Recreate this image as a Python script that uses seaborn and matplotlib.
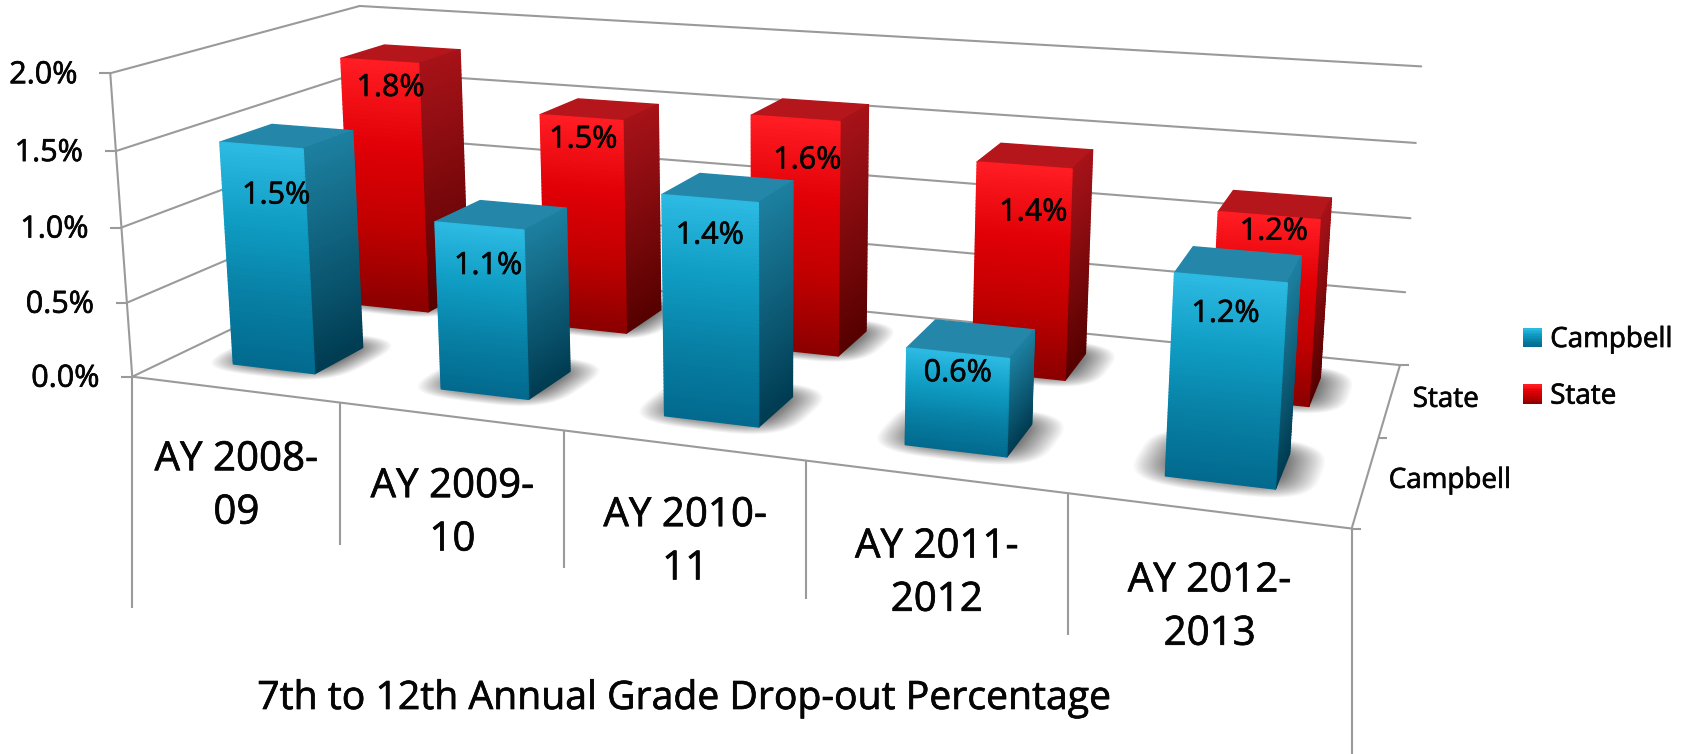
import numpy as np, matplotlib
matplotlib.use('Agg')
import matplotlib.pyplot as plt
import matplotlib.patheffects as pe
import seaborn as sns
from matplotlib.lines import Line2D
from matplotlib.patches import Patch, Rectangle
from matplotlib.legend_handler import HandlerBase
from matplotlib.transforms import IdentityTransform
from mpl_toolkits.mplot3d import proj3d
from mpl_toolkits.mplot3d.art3d import Poly3DCollection

# ---- data ----
categories = ["AY 2008-\n09", "AY 2009-\n10", "AY 2010-\n11", "AY 2011-\n2012", "AY 2012-\n2013"]
series_names = ["Campbell", "State"]
campbell = [1.5, 1.1, 1.4, 0.6, 1.2]
state = [1.8, 1.5, 1.6, 1.4, 1.2]
z_ticks = [0.0, 0.5, 1.0, 1.5, 2.0]
title = "7th to 12th Annual Grade Drop-out Percentage"

# ---- style / layout ----
W, H = 1692, 754
GRID = "#9a9a9a"
LW = 1.5
BAR = 0.4
FONT = "Open Sans"
TEXT = "#050505"
label_drop = {"Campbell": [50, 40, 37, 20, 36], "State": [27, 22, 42, 47, 16]}
label_dx = {"Campbell": [15, 9, 0, 0, -5], "State": [11, 2, 12, 9, 5]}
drop_len = [231, 142, 138, 138, 142, 230]
colors = {
    "Campbell": dict(front=("#2cb9e2", "#0f9dc4", "#0880a5", "#026a8e"), side=("#1c7f9f", "#003c52"), top="#2487aa"),
    "State": dict(front=("#ff1c22", "#e00006", "#c00000", "#8c0000"), side=("#a51218", "#560000"), top="#b5161c"),
}
BOLD = [pe.withStroke(linewidth=0.5, foreground=TEXT)]

sns.set_theme(style="white")
plt.rcParams["font.family"] = [FONT, "DejaVu Sans"]
fig = plt.figure(figsize=(W / 100, H / 100), dpi=100, facecolor="white")

ax = fig.add_subplot(projection="3d", computed_zorder=False)
ax.set_axis_off()
ax.set_proj_type("persp", focal_length=0.3201)
ax.view_init(13.9392, -70.0277)
ax.set_box_aspect((1, 0.3978, 0.2588))
ax.patch.set_alpha(0)
ax.set_xlim(0, 5); ax.set_ylim(0, 2); ax.set_zlim(0, 2)

# place the axes so the projected view has the reference's scale and centre
A_SCALE, TX, TY = 6959.491, 771.378, 222.840
side, cx, cy = 1300.0, TX, H - TY
for _ in range(4):
    ax.set_position([(cx - side / 2) / W, (cy - side / 2) / H, side / W, side / H])
    ax.apply_aspect()
    o = ax.transData.transform((0, 0))
    a = ax.transData.transform((1, 0))[0] - o[0]
    side *= A_SCALE / a
    cx += TX - o[0]
    cy += (H - TY) - o[1]

def to_px(x, y, z):
    xx, yy, _ = proj3d.proj_transform(x, y, z, ax.get_proj())
    return ax.transData.transform((xx, yy))

def ftext(px, py, s, **kw):
    fig.text(px, H - py, s, transform=IdentityTransform(), color=TEXT, path_effects=BOLD, **kw)

def fline(p0, p1):
    fig.add_artist(Line2D([p0[0], p1[0]], [p0[1], p1[1]], color=GRID, lw=LW,
                          transform=IdentityTransform(), solid_capstyle="butt"))

# walls
wall = dict(color=GRID, lw=LW, zorder=1, clip_on=False)
for z in z_ticks:
    ax.plot([0, 5], [2, 2], [z, z], **wall)
    ax.plot([0, 0], [0, 2], [z, z], **wall)
ax.plot([0, 0], [0, 0], [0, 2], **wall)
ax.plot([0, 5], [0, 0], [0, 0], **wall)
ax.plot([5, 5], [0, 2], [0, 0], **wall)

# soft floor shadows
def shadow(cx_, cy_, zo):
    th = np.linspace(0, 2 * np.pi, 60)
    for t in np.linspace(1, 0.04, 26) ** 1.25:
        hw = BAR / 2 + 0.14 * t
        px = cx_ + hw * np.sign(np.cos(th)) * np.abs(np.cos(th)) ** 0.6
        py = cy_ + 0.03 + hw * np.sign(np.sin(th)) * np.abs(np.sin(th)) ** 0.6
        pc = Poly3DCollection([list(zip(px, py, np.zeros_like(px)))], facecolors=(0, 0, 0, 0.028),
                              edgecolors="none", zorder=zo)
        ax.add_collection3d(pc)

for row, vals in enumerate([state, campbell]):
    for i, v in enumerate(vals):
        shadow(i + 0.5, (1.5 if row == 0 else 0.5), 2)

# gradient bars: a stack of thin bar3d slices
N = 60
zo = 3
CLEAR = (0, 0, 0, 0)
def draw_bar(i, y0, v, name):
    global zo
    c = colors[name]
    front = sns.blend_palette(list(c["front"])[::-1], N)
    sidep = sns.blend_palette(list(c["side"])[::-1], N)
    dz = v / N
    rgba = matplotlib.colors.to_rgba
    for k in range(N):
        # bar3d face order: bottom, top, -y, +y, -x, +x
        top = rgba(c["top"]) if k == N - 1 else CLEAR
        cols = [CLEAR, top, rgba(front[k]), CLEAR, CLEAR, rgba(sidep[k])]
        ax.bar3d(i + 0.5 - BAR / 2, y0, k * dz, BAR, BAR, dz, color=cols, shade=False,
                 edgecolors=cols, linewidth=1.0, zorder=zo)
        zo += 1

for i, v in enumerate(state):
    draw_bar(i, 1.3, v, "State")
for i, v in enumerate(campbell):
    draw_bar(i, 0.3, v, "Campbell")
ax.set_xlim(0, 5); ax.set_ylim(0, 2); ax.set_zlim(0, 2)

# z tick marks and labels
for z in z_ticks:
    p = to_px(0, 0, z)
    fline(p, (p[0] - 11, p[1]))
    ftext(p[0] - 33, H - p[1] + 2, f"{z:.1f}%", fontsize=22, ha="right", va="center")

# depth ticks and labels
for y in [0, 1, 2]:
    p = to_px(5, y, 0)
    fline(p, (p[0] + 9, p[1]))
for y, name in zip([0.5, 1.5], series_names):
    p = to_px(5, y, 0)
    ftext(p[0] + 23, H - p[1], name, fontsize=20, ha="left", va="center")

# category dividers and labels
for i in range(6):
    p = to_px(i, 0, 0)
    fline(p, (p[0], p[1] - drop_len[i]))
for i, cat in enumerate(categories):
    a, b = to_px(i, 0, 0), to_px(i + 1, 0, 0)
    ftext((a[0] + b[0]) / 2, H - (a[1] + b[1]) / 2 + 97, cat, fontsize=29, ha="center", va="center",
          linespacing=1.42)

# data labels
for name, vals, y0 in [("State", state, 1.3), ("Campbell", campbell, 0.3)]:
    for i, v in enumerate(vals):
        p = to_px(i + 0.5, y0, v)
        ftext(p[0] + label_dx[name][i], H - p[1] + label_drop[name][i], f"{v:.1f}%", fontsize=22,
              ha="center", va="center", zorder=10000)

ftext(684, 699, title, fontsize=28.2, ha="center", va="center")

# legend with gradient swatches
class GradHandler(HandlerBase):
    def create_artists(self, legend, orig, x0, y0, width, height, fontsize, trans):
        pal = sns.blend_palette(list(orig.swatch_colors), 12)
        arts = []
        for k, col in enumerate(pal):
            arts.append(Rectangle((x0, y0 + height * k / 12), width, height / 12 + 0.3, facecolor=col,
                                  edgecolor="none", transform=trans))
        return arts

class Swatch(Patch):
    def __init__(self, cols):
        super().__init__()
        self.swatch_colors = cols

handles = [Swatch(list(colors[n]["front"])[::-1]) for n in series_names]
leg = fig.legend(handles, series_names, handler_map={Swatch: GradHandler()}, loc="upper left",
                 bbox_to_anchor=(1523 / W, 1 - 326 / H), frameon=False, fontsize=20,
                 handlelength=0.68, handleheight=0.68, handletextpad=0.3, labelspacing=1.03,
                 borderpad=0, borderaxespad=0, labelcolor=TEXT)
for t in leg.get_texts():
    t.set_path_effects(BOLD)

fig.savefig("out.png", dpi=100, facecolor="white")
